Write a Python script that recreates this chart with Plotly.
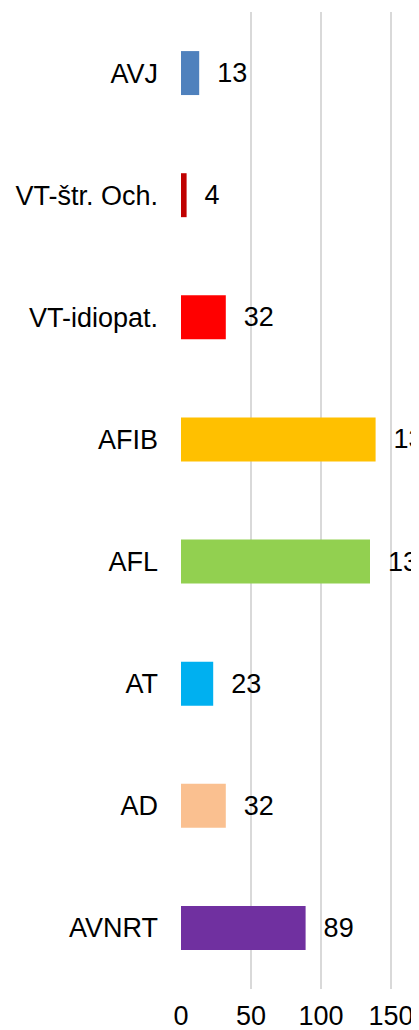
import plotly.graph_objects as go

categories = ["AVJ", "VT-štr. Och.", "VT-idiopat.", "AFIB", "AFL", "AT", "AD", "AVNRT"]
values = [13, 4, 32, 139, 135, 23, 32, 89]
colors = ["#4F81BD", "#C00000", "#FF0000", "#FFC000", "#92D050", "#00B0F0", "#FAC090", "#7030A0"]
x_ticks = [0, 50, 100, 150]

FONT = "Liberation Sans, Arial, sans-serif"
FS = 27

# The page body adds an 8px margin; offset the figure accordingly.
fig = go.Figure(go.Bar(
    x=values,
    y=categories,
    orientation="h",
    marker=dict(color=colors, line=dict(width=0)),
    width=0.36,
    text=values,
    texttemplate="  %{x}",
    textposition="outside",
    textfont=dict(family=FONT, size=FS, color="#000000"),
    cliponaxis=False,
    constraintext="none",
))

fig.update_layout(
    width=411,
    height=1022,
    margin=dict(l=173, r=0, t=4, b=41, autoexpand=False),
    paper_bgcolor="white",
    plot_bgcolor="white",
    showlegend=False,
    font=dict(family=FONT, size=FS, color="#000000"),
    xaxis=dict(
        range=[0, 170],
        tickvals=x_ticks,
        showgrid=True,
        gridcolor="#D9D9D9",
        gridwidth=2,
        zeroline=False,
        showline=False,
        ticks="",
        automargin=False,
        tickfont=dict(family=FONT, size=FS, color="#000000"),
        ticklabelstandoff=8,
    ),
    yaxis=dict(
        autorange="reversed",
        showgrid=False,
        zeroline=False,
        showline=False,
        ticks="",
        automargin=False,
        tickfont=dict(family=FONT, size=FS, color="#000000"),
        ticklabelstandoff=22,
    ),
)

fig.write_html("out.html")
